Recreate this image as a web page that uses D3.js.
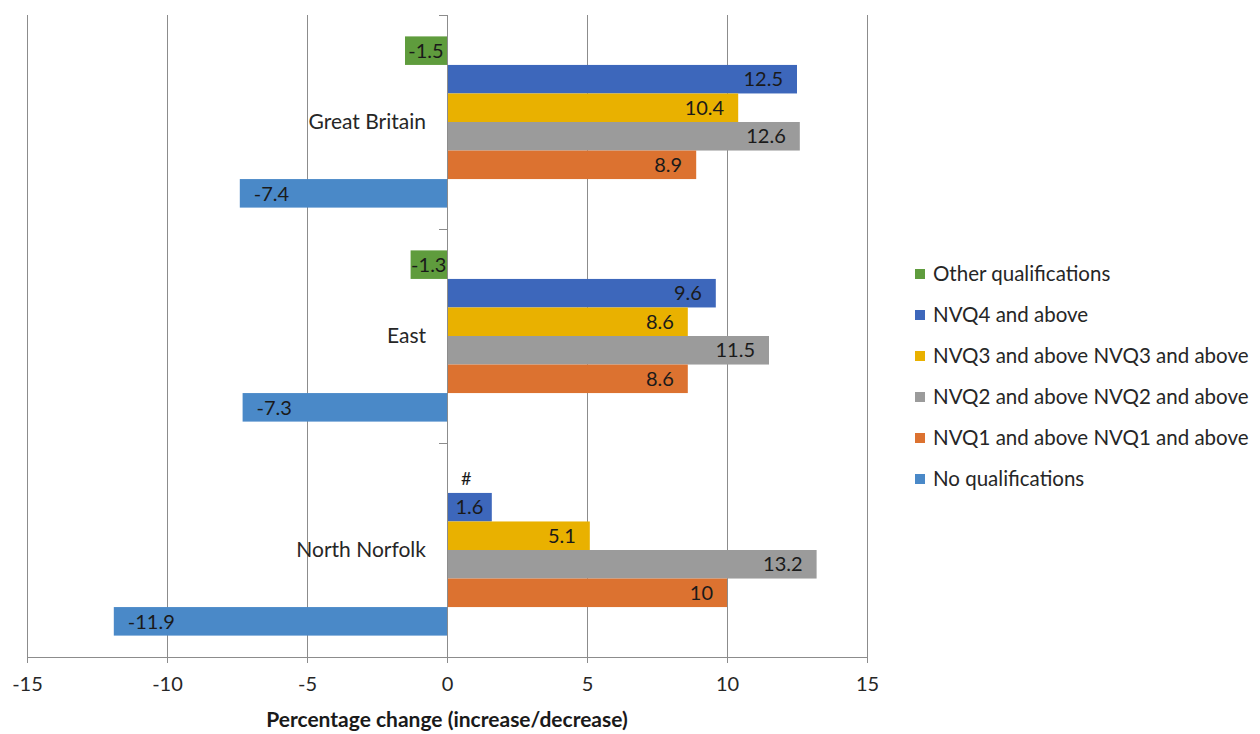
<!DOCTYPE html>
<html>
<head>
<meta charset="utf-8">
<script src="https://cdn.jsdelivr.net/npm/d3@7"></script>
<style>
  html, body { margin: 0; padding: 0; background: #fff; }
  svg { display: block; font-family: Lato, "Open Sans", sans-serif; }
</style>
</head>
<body>
<svg id="chart" width="1260" height="734"></svg>
<script>
// Areas, top to bottom
const areas = ["Great Britain", "East", "North Norfolk"];

// Qualification series, in the order they are stacked inside each group (top to bottom)
const seriesNames = [
  "Other qualifications",
  "NVQ4 and above",
  "NVQ3 and above NVQ3 and above",
  "NVQ2 and above NVQ2 and above",
  "NVQ1 and above NVQ1 and above",
  "No qualifications"
];
const seriesColors = ["#5f9c3d", "#3d67bb", "#e9b100", "#9b9b9b", "#dc7230", "#4a89c8"];

// Percentage change per series, one value per area (null = not available)
const otherQual  = [-1.5, -1.3, null];
const nvq4       = [12.5, 9.6, 1.6];
const nvq3       = [10.4, 8.6, 5.1];
const nvq2       = [12.6, 11.5, 13.2];
const nvq1       = [8.9, 8.6, 10];
const noQual     = [-7.4, -7.3, -11.9];
const seriesValues = [otherQual, nvq4, nvq3, nvq2, nvq1, noQual];

const missingLabel = "#";
const xTicks = [-15, -10, -5, 0, 5, 10, 15];
const xTitle = "Percentage change (increase/decrease)";

const svg = d3.select("#chart");
const plot = { left: 27, right: 867, top: 15, bottom: 657 };

const x = d3.scaleLinear().domain([-15, 15]).range([plot.left, plot.right]);
const y0 = d3.scaleBand().domain(areas).range([plot.top, plot.bottom])
  .paddingInner(0.2).paddingOuter(0.1);
const y1 = d3.scaleBand().domain(seriesNames).range([0, y0.bandwidth()]).padding(0);
const color = d3.scaleOrdinal().domain(seriesNames).range(seriesColors);

// Vertical gridlines
svg.append("g")
  .selectAll("line")
  .data(xTicks.filter(t => t !== 0))
  .join("line")
  .attr("x1", d => x(d)).attr("x2", d => x(d))
  .attr("y1", plot.top).attr("y2", plot.bottom)
  .attr("stroke", "#8c8c8c").attr("stroke-width", 1)
  .attr("shape-rendering", "crispEdges");

// Bottom axis (plain hyphen for negatives)
const xAxis = svg.append("g")
  .attr("transform", `translate(0,${plot.bottom})`)
  .call(d3.axisBottom(x).tickValues(xTicks).tickSize(6).tickSizeOuter(0).tickPadding(14)
    .tickFormat(d => String(d)));
xAxis.select(".domain").attr("stroke", "#8c8c8c");
xAxis.selectAll(".tick line").attr("stroke", "#8c8c8c");
xAxis.selectAll(".tick text")
  .attr("font-size", 20).attr("fill", "#262626")
  .attr("font-family", "Lato, 'Open Sans', sans-serif");
xAxis.attr("shape-rendering", "crispEdges");

// Bars
const rows = [];
areas.forEach((area, i) => {
  seriesNames.forEach((s, j) => {
    rows.push({ area, series: s, value: seriesValues[j][i] });
  });
});

svg.append("g")
  .selectAll("rect")
  .data(rows.filter(r => r.value !== null))
  .join("rect")
  .attr("x", d => Math.min(x(0), x(d.value)))
  .attr("width", d => Math.abs(x(d.value) - x(0)))
  .attr("y", d => y0(d.area) + y1(d.series))
  .attr("height", y1.bandwidth())
  .attr("fill", d => color(d.series));

// Vertical axis at zero with category ticks
const yAxisG = svg.append("g").attr("shape-rendering", "crispEdges");
yAxisG.append("line")
  .attr("x1", x(0)).attr("x2", x(0))
  .attr("y1", plot.top).attr("y2", plot.bottom)
  .attr("stroke", "#8c8c8c");
const boundaries = [plot.top, ...areas.slice(1).map(a => y0(a) - y0.step() * y0.paddingInner() / 2), plot.bottom];
yAxisG.selectAll("line.tk")
  .data(boundaries)
  .join("line").attr("class", "tk")
  .attr("x1", x(0) - 8).attr("x2", x(0))
  .attr("y1", d => d).attr("y2", d => d)
  .attr("stroke", "#8c8c8c");

// Category labels
svg.append("g")
  .selectAll("text")
  .data(areas)
  .join("text")
  .attr("x", x(0) - 21)
  .attr("y", d => y0(d) + y0.bandwidth() / 2)
  .attr("dy", "0.35em")
  .attr("text-anchor", "end")
  .attr("font-size", 21)
  .attr("fill", "#262626")
  .text(d => d);

// Data labels, inside the bar end
const labelG = svg.append("g");
const pad = 14;
rows.forEach(r => {
  const yc = y0(r.area) + y1(r.series) + y1.bandwidth() / 2;
  if (r.value === null) {
    labelG.append("text")
      .attr("x", x(0) + 14).attr("y", yc).attr("dy", "0.35em")
      .attr("font-size", 18).attr("fill", "#1a1a1a")
      .text(missingLabel);
    return;
  }
  const t = labelG.append("text")
    .attr("y", yc).attr("dy", "0.36em")
    .attr("font-size", 20).attr("fill", "#1a1a1a")
    .text(String(r.value));
  const tw = t.node().getComputedTextLength();
  const barW = Math.abs(x(r.value) - x(0));
  if (barW < tw + 2 * pad) {
    t.attr("text-anchor", "middle").attr("x", (x(r.value) + x(0)) / 2);
  } else if (r.value < 0) {
    t.attr("text-anchor", "start").attr("x", x(r.value) + pad);
  } else {
    t.attr("text-anchor", "end").attr("x", x(r.value) - pad);
  }
});

// Axis title
svg.append("text")
  .attr("x", x(0)).attr("y", 727)
  .attr("text-anchor", "middle")
  .attr("font-size", 21).attr("font-weight", "bold")
  .attr("fill", "#1a1a1a")
  .text(xTitle);

// Legend
const legend = svg.append("g").attr("transform", "translate(915,274)");
const li = legend.selectAll("g")
  .data(seriesNames)
  .join("g")
  .attr("transform", (d, i) => `translate(0,${i * 41})`);
li.append("rect")
  .attr("x", 0).attr("y", -5).attr("width", 10).attr("height", 10)
  .attr("fill", d => color(d));
li.append("text")
  .attr("x", 18).attr("y", 0).attr("dy", "0.35em")
  .attr("font-size", 20.5).attr("fill", "#262626")
  .text(d => d);
</script>
</body>
</html>
